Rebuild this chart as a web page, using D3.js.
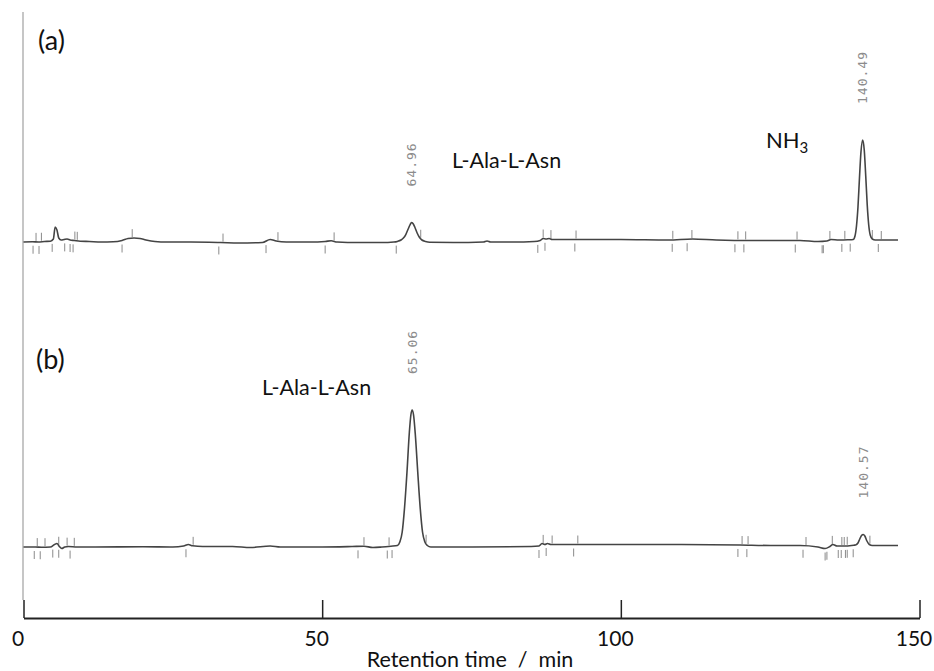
<!DOCTYPE html>
<html>
<head>
<meta charset="utf-8">
<script src="https://cdn.jsdelivr.net/npm/d3@7"></script>
<style>
  body { margin: 0; background: #fff; }
  svg { display: block; }
</style>
</head>
<body>
<svg id="chart" width="934" height="671"></svg>
<script>
// Chromatogram (a): [retention time / min, detector response]
const traceA = [
  [0, 0], [1.5, 0.3], [2.5, 0], [3.5, 0.5], [4.5, 0.8], [5.0, 3], [5.3, 15], [5.6, 12],
  [5.9, 4], [6.3, 2], [6.8, 2.5], [7.3, 3], [7.8, 2], [8.5, 1.5], [9.5, 0.8], [11, 0.5],
  [13, 0], [15, 0.2], [16.5, 1.5], [17.5, 3.5], [18.5, 4], [19.5, 3.5], [20.5, 2], [22, 0.5],
  [24, 0], [28, 0], [33, -0.5], [36, -1], [40, -0.5], [41.3, 2.5], [42.3, 1], [44, 0],
  [48, 0], [50.5, 0.5], [51.5, 1.2], [52.5, 0], [56, -0.5], [60, -0.5], [62.0, 0],
  [62.6, 0.6], [63.2, 2], [63.6, 4], [64.0, 7.5], [64.4, 13], [64.7, 17], [64.96, 19.5],
  [65.2, 18.5], [65.5, 15], [65.9, 9], [66.3, 4.5], [66.7, 2], [67.3, 0.5], [68, -0.3],
  [72, -0.5], [77, 0], [77.6, 1], [78.2, 0], [82, 0], [85.5, 0.5], [86.5, 1.5], [87, 3.5],
  [87.5, 3], [88, 3.5], [88.5, 2.5], [92, 2.5], [100, 2.5], [108, 2], [112, 3], [116, 2],
  [122, 1.5], [130, 1.5], [133, 0.5], [134.5, 1], [135.2, 2.5], [136.5, 2], [138, 2.2],
  [138.9, 2.5], [139.2, 6], [139.45, 16], [139.7, 35], [139.95, 64], [140.2, 90],
  [140.49, 102], [140.75, 92], [141.0, 66], [141.25, 37], [141.5, 17], [141.75, 7],
  [142.1, 3], [142.6, 2], [144, 2], [146.4, 2]
];

// Chromatogram (b)
const traceB = [
  [0, 0], [2, 0], [3, -0.3], [4.5, 0], [5.2, 2.5], [5.6, 3.5], [6.0, 0.5], [6.4, -1.5],
  [6.9, 0], [7.5, 0.5], [9, 0], [12, 0], [20, 0.3], [25, 0], [26.8, 1], [27.6, 2.5],
  [28.3, 1.2], [30, 0.5], [35, 0.5], [38, -0.5], [41.3, 1], [43, 0], [50, 0], [55, 0.5],
  [57, 0.8], [58.5, -0.5], [60, 0], [61.5, 0.8], [62.6, 1.5], [63.0, 5], [63.4, 15],
  [63.8, 40], [64.2, 75], [64.6, 115], [64.85, 132], [65.06, 137], [65.3, 132], [65.6, 112],
  [66.0, 75], [66.4, 40], [66.8, 15], [67.2, 5], [67.6, 1.5], [68.2, 0], [75, 0], [85, 0.5],
  [86.3, 1], [86.8, 3.5], [87.3, 2.5], [87.7, 3.5], [88.3, 2.5], [92, 2.5], [100, 2.5],
  [110, 2.5], [120, 2], [125, 1.5], [130, 1.5], [133, 0], [134.2, -1.5], [135.0, 0.5],
  [135.5, 2.5], [136.2, 1], [137.5, 1], [139.0, 1.8], [139.3, 2], [139.7, 4], [140.0, 8],
  [140.3, 11.5], [140.57, 12.5], [140.85, 11], [141.2, 6], [141.6, 2.5], [142.1, 1.5],
  [143.5, 1.5], [146.4, 1.5]
];

// Integrated peak retention times printed above the peaks
const peakTimesA = [64.96, 140.49];
const peakTimesB = [65.06, 140.57];

// Integration event marks (above / below the trace), minutes
const marksAboveA = [2.1, 3.0, 8.6, 9.0, 18.2, 33.4, 42.6, 52.0, 66.5, 87.0, 88.3, 92.5,
  108.7, 111.9, 119.6, 120.9, 129.5, 135.0, 137.5, 142.1, 143.6];
const marksBelowA = [1.6, 2.6, 4.8, 6.9, 7.8, 8.3, 16.5, 32.7, 40.6, 50.5, 62.4, 86.1, 87.3,
  92.3, 108.6, 111.1, 119.1, 120.6, 129.2, 133.7, 133.9, 137.0, 138.4, 143.1];
const marksAboveB = [2.3, 3.6, 5.9, 7.3, 8.5, 28.4, 57.0, 61.2, 67.4, 87.0, 88.5, 92.8,
  120.3, 121.3, 131.0, 135.4, 137.0, 137.4, 137.9, 141.7];
const marksBelowB = [1.8, 2.8, 4.9, 5.9, 7.8, 27.2, 56.0, 60.9, 61.7, 86.3, 87.5, 92.1,
  119.6, 121.1, 130.5, 134.2, 134.5, 136.4, 136.9, 137.6, 137.9, 138.9];

const xTickValues = [0, 50, 100, 150];
const xTitle = "Retention time  /  min";

const svg = d3.select("#chart");
const x = d3.scaleLinear().domain([0, 150]).range([23.5, 919.5]);
const yA = d3.scaleLinear().domain([0, 140]).range([242, 102]);
const yB = d3.scaleLinear().domain([0, 140]).range([547, 407]);

// vertical signal axis
svg.append("line")
  .attr("x1", 23).attr("x2", 23).attr("y1", 12).attr("y2", 600)
  .attr("stroke", "#a8a8a8").attr("stroke-width", 1.3);

// linear lookup of the response at time t
const bis = d3.bisector(d => d[0]).left;
function valueAt(trace, t) {
  const i = Math.max(1, Math.min(trace.length - 1, bis(trace, t)));
  const a = trace[i - 1], b = trace[i];
  const f = (t - a[0]) / (b[0] - a[0]);
  return a[1] + f * (b[1] - a[1]);
}

function drawPanel(trace, y, peaks, above, below) {
  const g = svg.append("g");
  // integration marks
  g.selectAll("line.above").data(above).join("line")
    .attr("class", "above")
    .attr("x1", d => x(d)).attr("x2", d => x(d))
    .attr("y1", d => y(valueAt(trace, d)) - 1)
    .attr("y2", d => y(valueAt(trace, d)) - 9)
    .attr("stroke", "#8a8a8a").attr("stroke-width", 1);
  g.selectAll("line.below").data(below).join("line")
    .attr("class", "below")
    .attr("x1", d => x(d)).attr("x2", d => x(d))
    .attr("y1", d => y(valueAt(trace, d)) + 4)
    .attr("y2", d => y(valueAt(trace, d)) + 12)
    .attr("stroke", "#8a8a8a").attr("stroke-width", 1);
  // signal
  const line = d3.line().x(d => x(d[0])).y(d => y(d[1])).curve(d3.curveMonotoneX);
  g.append("path").datum(trace).attr("d", line)
    .attr("fill", "none").attr("stroke", "#444").attr("stroke-width", 1.6)
    .attr("stroke-linejoin", "round");
  // retention time labels
  g.selectAll("text.rt").data(peaks).join("text")
    .attr("class", "rt")
    .attr("transform", d => `translate(${x(d)},${y(valueAt(trace, d)) - 36}) rotate(-90)`)
    .attr("dy", "0.35em")
    .attr("text-anchor", "start")
    .attr("font-family", "DejaVu Sans Mono")
    .attr("font-size", 13)
    .attr("letter-spacing", 1)
    .attr("fill", "#8c8c8c")
    .text(d => d3.format(".2f")(d));
}

drawPanel(traceA, yA, peakTimesA, marksAboveA, marksBelowA);
drawPanel(traceB, yB, peakTimesB, marksAboveB, marksBelowB);

// time axis with ticks pointing up
const axis = d3.axisBottom(x).tickValues(xTickValues)
  .tickSizeInner(-18).tickSizeOuter(0).tickFormat(d3.format("d"));
const ax = svg.append("g").attr("transform", "translate(0,618)").call(axis);
ax.select(".domain").attr("stroke", "#222").attr("stroke-width", 2);
ax.selectAll(".tick line").attr("stroke", "#222").attr("stroke-width", 1.5);
ax.selectAll(".tick text")
  .attr("y", 28).attr("dy", 0).attr("dx", -6)
  .attr("fill", "#111")
  .attr("font-family", "Lato").attr("font-size", 21);

svg.append("text")
  .attr("x", 470).attr("y", 667)
  .attr("text-anchor", "middle")
  .attr("font-family", "Lato").attr("font-size", 21.5).attr("fill", "#111")
  .style("white-space", "pre")
  .text(xTitle);

// panel and compound annotations
const font = "Lato";
svg.append("text").attr("x", 38).attr("y", 50)
  .attr("font-family", font).attr("font-size", 27).attr("fill", "#111").text("(a)");
svg.append("text").attr("x", 36).attr("y", 369)
  .attr("font-family", font).attr("font-size", 27).attr("fill", "#111").text("(b)");
svg.append("text").attr("x", 452).attr("y", 168)
  .attr("font-family", font).attr("font-size", 21.5).attr("fill", "#111").text("L-Ala-L-Asn");
svg.append("text").attr("x", 262).attr("y", 395)
  .attr("font-family", font).attr("font-size", 21.5).attr("fill", "#111").text("L-Ala-L-Asn");
const nh3 = svg.append("text").attr("x", 766).attr("y", 148)
  .attr("font-family", font).attr("font-size", 22).attr("fill", "#111");
nh3.append("tspan").text("NH");
nh3.append("tspan").attr("dy", 5).attr("font-size", 15).text("3");
</script>
</body>
</html>
